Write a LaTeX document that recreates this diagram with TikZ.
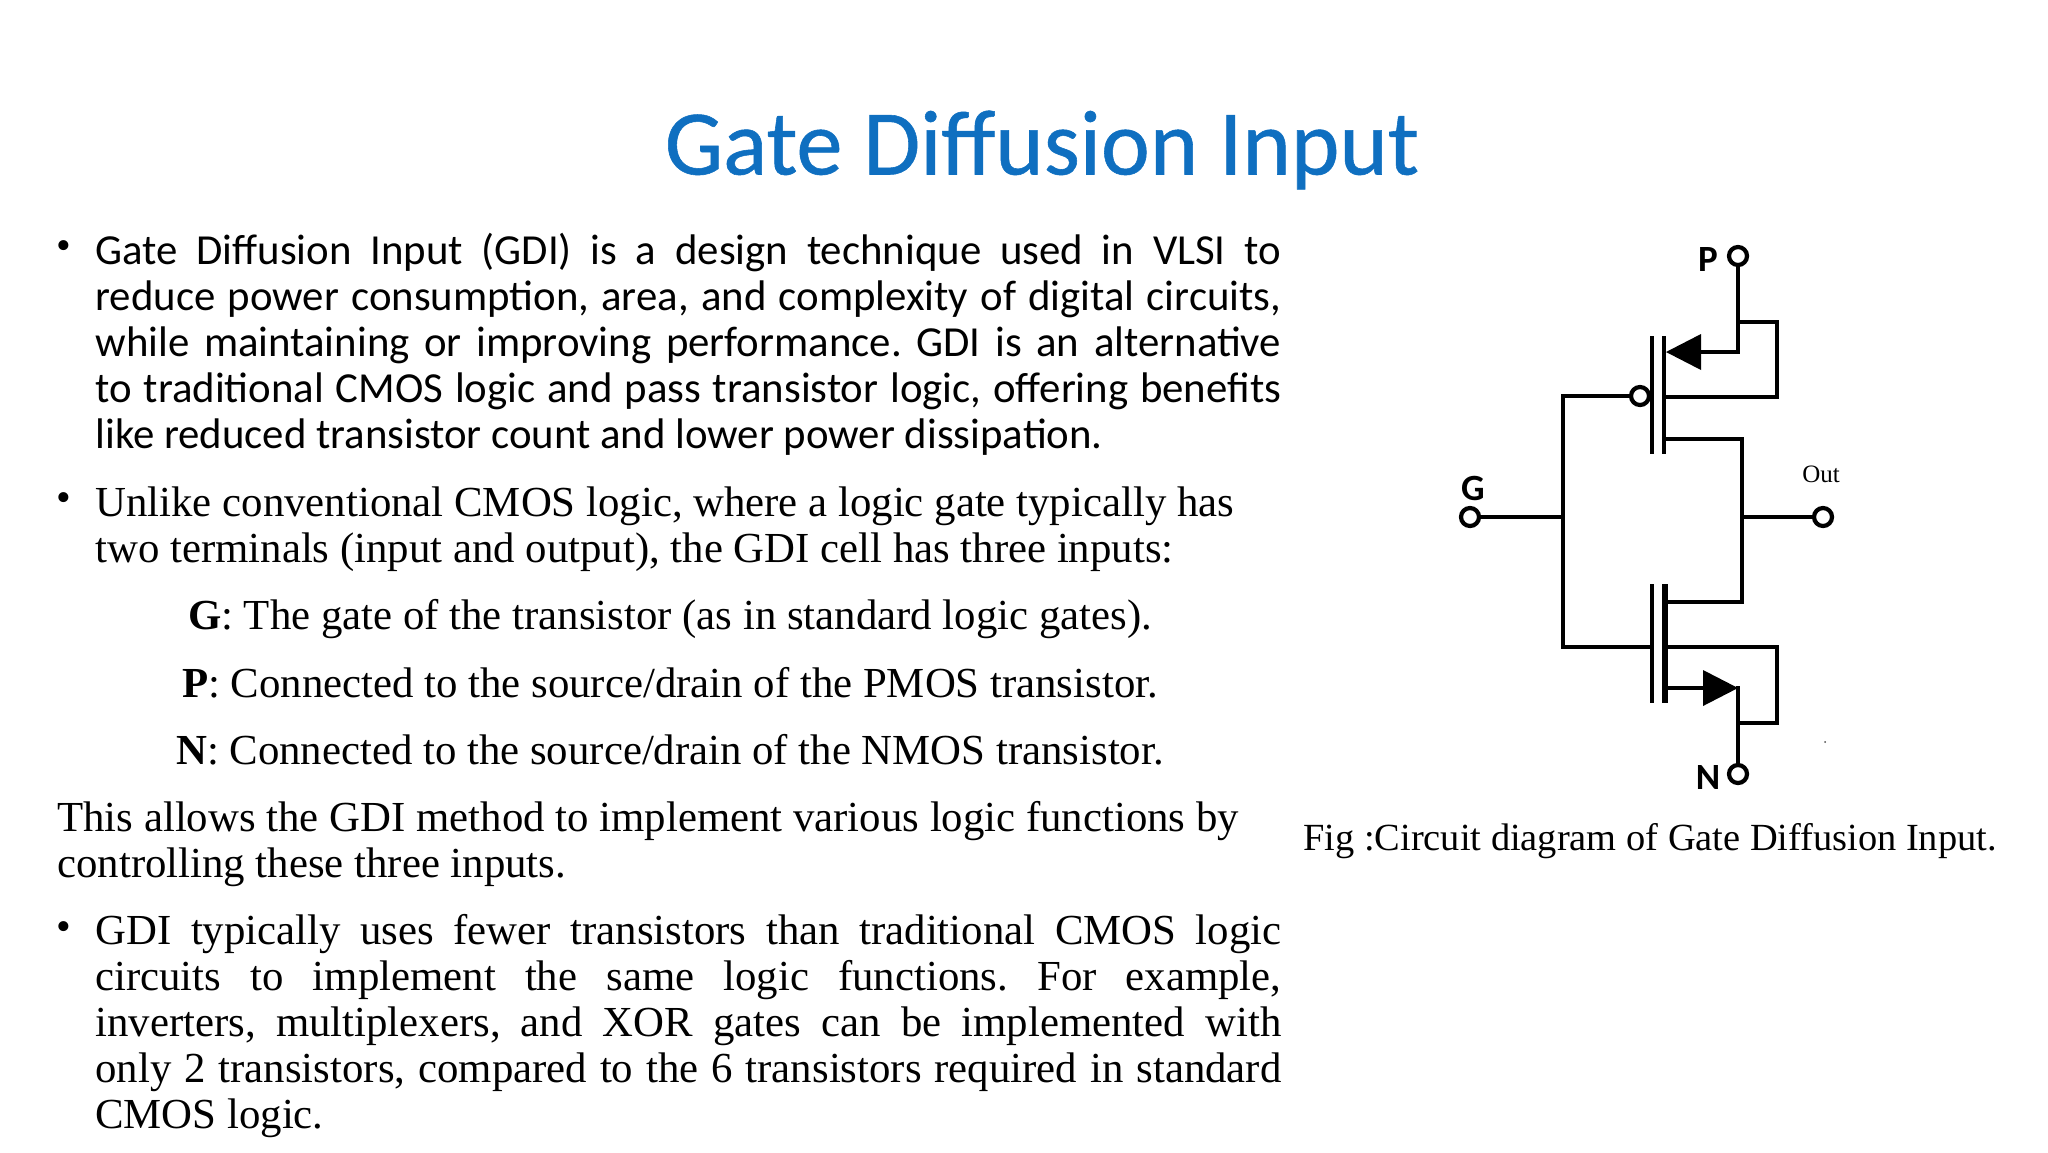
\documentclass[tikz,border=0pt]{standalone}
\usepackage{fontspec}
\setmainfont{Liberation Serif}
\newfontfamily\carlito{Carlito}
\newfontfamily\carlitohead[FakeBold=0.6]{Carlito}
\usetikzlibrary{arrows.meta, positioning}
\definecolor{titleblue}{HTML}{0F6FC0}
\newcommand{\nl}{\linebreak}
\tikzset{
  para/.style={anchor=north west, inner sep=0pt, text width=593pt, align=justify, font=\fontsize{21.4}{23}\selectfont\frenchspacing},
  lefty/.style={para, text width=640pt, align=flush left},
  bulletmark/.style={anchor=center, inner sep=0pt, font=\fontsize{21}{23}\selectfont},
  centred/.style={anchor=center, inner sep=0pt, font=\fontsize{21.4}{23}\selectfont\frenchspacing},
  wire/.style={line width=2.3pt, line cap=rect},
  gatebar/.style={line width=2.2pt},
  terminal/.style={circle, draw, line width=2.1pt, fill=white, minimum size=9pt, inner sep=0pt},
  pinlabel/.style={inner sep=0pt, font=\carlito\bfseries\fontsize{18.5}{18.5}\selectfont},
}
\begin{document}
\begin{tikzpicture}[x=0.5pt, y=-0.5pt]
\useasboundingbox (0,0) rectangle (2048,1152);

% Title
\node[inner sep=0pt, text=titleblue, font=\carlitohead\fontsize{46.2}{46}\selectfont] (title) at (1042,150) {Gate Diffusion Input};

% Left column
\node[bulletmark] (b1) at (64,250) {\textbullet};
\node[para, font=\carlito\fontsize{21.4}{23}\selectfont\frenchspacing] (intro) at (95,233) {Gate Diffusion Input (GDI) is a design technique used in VLSI to\nl
reduce power consumption, area, and complexity of digital circuits,\nl
while maintaining or improving performance. GDI is an alternative\nl
to traditional CMOS logic and pass transistor logic, offering benefits\nl
like reduced transistor count and lower power dissipation.};

\node[bulletmark] (b2) at (64,502) {\textbullet};
\node[lefty] (unlike) at (95,486) {Unlike conventional CMOS logic, where a logic gate typically has\\
two terminals (input and output), the GDI cell has three inputs:};

\node[centred] (gitem) at (670,619) {\textbf{G}: The gate of the transistor (as in standard logic gates).};
\node[centred] (pitem) at (670,683) {\textbf{P}: Connected to the source/drain of the PMOS transistor.};
\node[centred] (nitem) at (670,750) {\textbf{N}: Connected to the source/drain of the NMOS transistor.};

\node[lefty] (allows) at (57,801) {This allows the GDI method to implement various logic functions by\\
controlling these three inputs.};

\node[bulletmark] (b3) at (64,931) {\textbullet};
\node[para] (fewer) at (95,914) {GDI typically uses fewer transistors than traditional CMOS logic\nl
circuits to implement the same logic functions. For example,\nl
inverters, multiplexers, and XOR gates can be implemented with\nl
only 2 transistors, compared to the 6 transistors required in standard\nl
CMOS logic.};

% Terminals
\node[terminal] (p) at (1738,256) {};
\node[terminal] (n) at (1738,774) {};
\node[terminal] (g) at (1470,517) {};
\node[terminal] (out) at (1823,517) {};
\node[terminal] (bubble) at (1640,396) {};
\node[pinlabel] (plabel) at (1708,259) {P};
\node[pinlabel] (nlabel) at (1708,777) {N};
\node[pinlabel] (glabel) at (1473,488) {G};
\node[inner sep=0pt, font=\fontsize{12.5}{12}\selectfont] (outlabel) at (1821,474) {Out};

% Junctions
\coordinate (gjoin) at (1563,517);
\coordinate (ojoin) at (1742,517);
\coordinate (ptop) at (1738,322);
\coordinate (psrc) at (1738,352);
\coordinate (ptip) at (1666,352);
\coordinate (nsrc) at (1664,688);
\coordinate (ntip) at (1738,688);
\coordinate (nbot) at (1738,723);

% PMOS
\draw[gatebar] (1652,336) -- (1652,454);
\draw[gatebar] (1664,336) -- (1664,454);
\draw[wire] (p) -- (psrc) -- (1701,352);
\fill (ptip) -- (1701,334) -- (1701,370) -- cycle;
\draw[wire] (ptop) -- (1777,322) -- (1777,397) -- (1666,397);
\draw[wire] (bubble) -- (1563,396) -- (gjoin);
\draw[wire] (1666,439) -- (1742,439) -- (ojoin);

% NMOS
\draw[gatebar] (1652,584) -- (1652,703);
\draw[gatebar, line width=2.8pt] (1665,584) -- (1665,703);
\draw[wire] (gjoin) -- (1563,647) -- (1652,647);
\draw[wire] (ojoin) -- (1742,602) -- (1666,602);
\draw[wire] (1666,647) -- (1777,647) -- (1777,723) -- (nbot);
\draw[wire] (nsrc) -- (1703,688);
\fill (ntip) -- (1703,670) -- (1703,706) -- cycle;
\draw[wire] (ntip) -- (n);

% Leads
\draw[wire] (g) -- (gjoin);
\draw[wire] (ojoin) -- (out);
\fill[black!70] (1825,742) circle (1);

% Caption
\node[inner sep=0pt, font=\fontsize{19.2}{20}\selectfont] (caption) at (1650,841) {Fig :Circuit diagram of Gate Diffusion Input.};
\end{tikzpicture}
\end{document}
